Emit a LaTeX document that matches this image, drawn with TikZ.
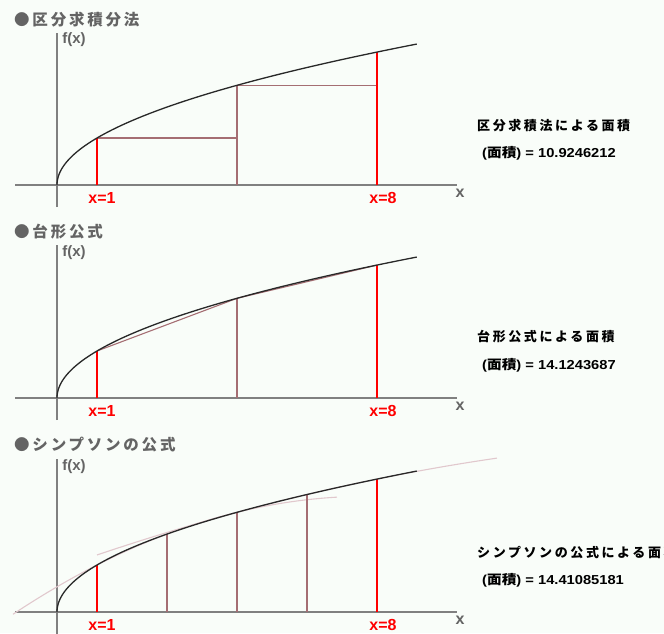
\documentclass[tikz,border=0pt]{standalone}
\usepackage{fontspec}
\usepackage{graphicx}
\setmainfont{Liberation Sans}
\newfontfamily\jptitle{Noto Sans CJK JP}[LetterSpace=18]
\newfontfamily\jpres{Noto Sans CJK JP}[LetterSpace=20]
\newfontfamily\jpplain{Noto Sans CJK JP}
\definecolor{bgc}{RGB}{249,253,249}
\definecolor{axisgray}{RGB}{128,128,128}
\definecolor{titlegray}{RGB}{100,100,100}
\definecolor{curvec}{RGB}{40,40,40}
\definecolor{duskyc}{RGB}{165,110,115}
\definecolor{pinkc}{RGB}{225,200,205}
\definecolor{redc}{RGB}{255,0,0}
\newcommand{\resnum}[1]{\scalebox{1.13}[1]{\bfseries (\jpplain 面積\rmfamily ) = #1}}
\begin{document}
\begin{tikzpicture}[x=1pt,y=-1pt,
  axisline/.style={draw=axisgray,line width=1.2pt},
  curveline/.style={draw=curvec,line width=1.3pt},
  redline/.style={draw=redc,line width=1.2pt},
  duskyline/.style={draw=duskyc,line width=1.1pt},
  pinkline/.style={draw=pinkc,line width=1.1pt},
  titletext/.style={anchor=west,inner sep=0pt,text=titlegray,font=\jptitle\bfseries\fontsize{15.5}{15.5}\selectfont},
  fxtext/.style={inner sep=0pt,text=titlegray,font=\bfseries\fontsize{15}{15}\selectfont},
  xlabtext/.style={inner sep=0pt,text=titlegray,font=\bfseries\fontsize{16}{16}\selectfont},
  redlab/.style={inner sep=0pt,text=redc,font=\bfseries\fontsize{16}{16}\selectfont},
  restext/.style={anchor=west,inner sep=0pt,text=black,font=\jpres\bfseries\fontsize{13}{13}\selectfont},
  numtext/.style={anchor=west,inner sep=0pt,text=black,font=\fontsize{13}{13}\selectfont}]
\fill[bgc] (0,0) rectangle (664,633);
\useasboundingbox (0,0) rectangle (664,633);
\clip (0,0) rectangle (664,633);

% ---------------- panel 1 : 区分求積分法 ----------------
\begin{scope}[shift={(0,185)}]
  \node[titletext] (t-title) at (14,-165) {●区分求積分法};
  \coordinate (t-xl) at (15,0);
  \coordinate (t-xr) at (457,0);
  \coordinate (t-yt) at (57,-152);
  \coordinate (t-yb) at (57,22);
  \draw[axisline] (t-xl) -- (t-xr);
  \draw[axisline] (t-yb) -- (t-yt);
  \node[fxtext] (t-fx) at (74,-145) {f(x)};
  \node[xlabtext] (t-x) at (460,8) {x};
  \coordinate (t-a1) at (97,0);
  \coordinate (t-c1) at (97,-47);
  \coordinate (t-a2) at (237,0);
  \coordinate (t-c2) at (237,-99.7);
  \coordinate (t-h1) at (237,-47);
  \coordinate (t-a3) at (377,0);
  \coordinate (t-c3) at (377,-132.93);
  \coordinate (t-h2) at (377,-99.7);
  \draw[duskyline] (t-c1) -- (t-h1);
  \draw[duskyline] (t-a2) -- (t-c2) -- (t-h2);
  \draw[redline] (t-a1) -- (t-c1);
  \draw[redline] (t-a3) -- (t-c3);
  \draw[curveline] plot[domain=0:3,samples=150,variable=\t] ({57+40*\t*\t},{-47*\t});
  \node[redlab] (t-l1) at (102,13) {x=1};
  \node[redlab] (t-l8) at (383,13) {x=8};
\end{scope}
\node[restext] (t-res1) at (477,126) {区分求積法による面積};
\node[numtext] (t-res2) at (482,153) {\resnum{10.9246212}};

% ---------------- panel 2 : 台形公式 ----------------
\begin{scope}[shift={(0,398)}]
  \node[titletext] (m-title) at (14,-166) {●台形公式};
  \coordinate (m-xl) at (15,0);
  \coordinate (m-xr) at (457,0);
  \coordinate (m-yt) at (57,-153);
  \coordinate (m-yb) at (57,22);
  \draw[axisline] (m-xl) -- (m-xr);
  \draw[axisline] (m-yb) -- (m-yt);
  \node[fxtext] (m-fx) at (74,-145) {f(x)};
  \node[xlabtext] (m-x) at (460,8) {x};
  \coordinate (m-a1) at (97,0);
  \coordinate (m-c1) at (97,-47);
  \coordinate (m-a2) at (237,0);
  \coordinate (m-c2) at (237,-99.7);
  \coordinate (m-a3) at (377,0);
  \coordinate (m-c3) at (377,-132.93);
  \draw[duskyline] (m-a2) -- (m-c2);
  \draw[duskyline] (m-c1) -- (m-c2) -- (m-c3);
  \draw[redline] (m-a1) -- (m-c1);
  \draw[redline] (m-a3) -- (m-c3);
  \draw[curveline] plot[domain=0:3,samples=150,variable=\t] ({57+40*\t*\t},{-47*\t});
  \node[redlab] (m-l1) at (102,13) {x=1};
  \node[redlab] (m-l8) at (383,13) {x=8};
\end{scope}
\node[restext] (m-res1) at (477,337) {台形公式による面積};
\node[numtext] (m-res2) at (482,365) {\resnum{14.1243687}};

% ---------------- panel 3 : シンプソンの公式 ----------------
\begin{scope}[shift={(0,612)}]
  \node[titletext] (s-title) at (14,-167) {●シンプソンの公式};
  \coordinate (s-xl) at (15,0);
  \coordinate (s-xr) at (457,0);
  \coordinate (s-yt) at (57,-153);
  \coordinate (s-yb) at (57,22);
  \draw[axisline] (s-xl) -- (s-xr);
  \draw[axisline] (s-yb) -- (s-yt);
  \node[fxtext] (s-fx) at (74,-145) {f(x)};
  \node[xlabtext] (s-x) at (460,8) {x};
  % parabolas of Simpson's rule
  \draw[pinkline] plot[domain=-1.1:7,samples=80,variable=\u]
     ({57+40*\u},{-47*(1.658312+0.320377*(\u-2.75)-0.031887*(\u-2.75)^2)});
  \draw[pinkline] plot[domain=1:11,samples=80,variable=\u]
     ({57+40*\u},{-47*(2.5+0.202031*(\u-6.25)-0.0082046*(\u-6.25)^2)});
  \coordinate (s-a1) at (97,0);
  \coordinate (s-c1) at (97,-47);
  \coordinate (s-a2) at (167,0);
  \coordinate (s-c2) at (167,-77.94);
  \coordinate (s-a3) at (237,0);
  \coordinate (s-c3) at (237,-99.7);
  \coordinate (s-a4) at (307,0);
  \coordinate (s-c4) at (307,-117.5);
  \coordinate (s-a5) at (377,0);
  \coordinate (s-c5) at (377,-132.93);
  \draw[duskyline] (s-a2) -- (s-c2);
  \draw[duskyline] (s-a3) -- (s-c3);
  \draw[duskyline] (s-a4) -- (s-c4);
  \draw[redline] (s-a1) -- (s-c1);
  \draw[redline] (s-a5) -- (s-c5);
  \draw[curveline] plot[domain=0:3,samples=150,variable=\t] ({57+40*\t*\t},{-47*\t});
  \node[redlab] (s-l1) at (102,13) {x=1};
  \node[redlab] (s-l8) at (383,13) {x=8};
\end{scope}
\node[restext] (s-res1) at (477,553) {シンプソンの公式による面積};
\node[numtext] (s-res2) at (482,580) {\resnum{14.41085181}};
\end{tikzpicture}
\end{document}
